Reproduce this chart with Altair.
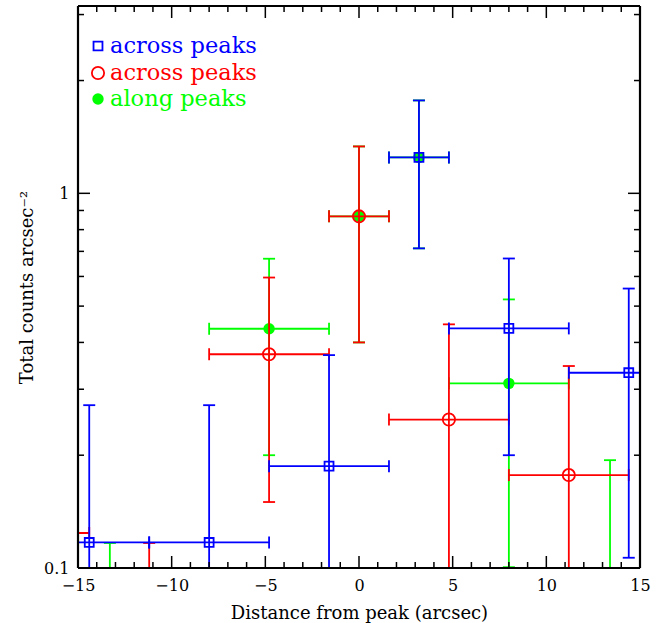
import altair as alt
import pandas as pd

# ---------------- data ----------------
blue_label = "across peaks"
blue_x = [-14.4, -8.0, -1.6, 3.2, 8.0, 14.4]
blue_y = [0.117, 0.117, 0.187, 1.247, 0.436, 0.332]
blue_xerr = [3.2, 3.2, 3.2, 1.6, 3.2, 3.2]
blue_ylo = [0.05, 0.05, 0.05, 0.713, 0.200, 0.1065]
blue_yhi = [0.272, 0.272, 0.370, 1.77, 0.670, 0.557]

red_label = "across peaks"
red_x = [-16.0, -11.2, -4.8, 0.0, 4.8, 11.2]
red_y = [0.124, 0.08, 0.372, 0.868, 0.249, 0.177]
red_xerr = [1.6, 3.2, 3.2, 1.6, 3.2, 3.2]
red_ylo = [0.05, 0.04, 0.150, 0.400, 0.05, 0.05]
red_yhi = [0.2, 0.1166, 0.596, 1.334, 0.447, 0.346]

green_label = "along peaks"
green_x = [-13.3, -4.8, 0.0, 3.2, 8.0, 13.4]
green_y = [0.07, 0.435, 0.868, 1.247, 0.311, 0.08]
green_xerr = [1.6, 3.2, 1.6, 1.6, 3.2, 1.6]
green_ylo = [0.03, 0.200, 0.400, 0.713, 0.1005, 0.04]
green_yhi = [0.1166, 0.669, 1.334, 1.77, 0.521, 0.194]

x_major = [-15, -10, -5, 0, 5, 10, 15]
x_minor = [v for v in range(-15, 16) if v % 5 != 0]
y_major = [0.1, 1]
y_minor = [0.2, 0.3, 0.4, 0.5, 0.6, 0.7, 0.8, 0.9, 2, 3]

x_title = "Distance from peak (arcsec)"
y_title = "Total counts arcsec\u207b\u00b2"

# ---------------- layout ----------------
W, H = 562, 562
FONT = "DejaVu Serif"
xs = alt.Scale(domain=[-15, 15], nice=False, zero=False)
ys = alt.Scale(type="log", domain=[0.1, 3.162], nice=False, zero=False)

axis_common = dict(ticks=False, domain=False, grid=False, labelFont=FONT,
                   labelFontSize=16, labelColor="black", titleFont=FONT,
                   titleFontSize=18, titleFontWeight="normal", titleColor="black",
                   labelFlush=False, labelOverlap=False)
x_axis = alt.Axis(values=x_major, title=x_title, labelPadding=9,
                  titlePadding=11, **axis_common)
y_axis = alt.Axis(values=y_major, title=y_title, format="~g", labelPadding=9,
                  titlePadding=7, **axis_common)


def frame(x, y, xerr, ylo, yhi):
    df = pd.DataFrame({"x": x, "y": y, "xerr": xerr, "ylo": ylo, "yhi": yhi})
    df["xlo"] = df["x"] - df["xerr"]
    df["xhi"] = df["x"] + df["xerr"]
    return df


def X(f):
    return alt.X(f, type="quantitative", scale=xs, axis=x_axis)


def Y(f):
    return alt.Y(f, type="quantitative", scale=ys, axis=y_axis)


def series(df, color, shape, filled, size):
    base = alt.Chart(df)
    sw = 1.8
    vbar = base.mark_rule(color=color, strokeWidth=sw, clip=True).encode(
        x=X("x"), y=Y("ylo"), y2="yhi")
    hbar = base.mark_rule(color=color, strokeWidth=sw, clip=True).encode(
        y=Y("y"), x=X("xlo"), x2="xhi")
    cap_top = base.mark_rule(color=color, strokeWidth=sw, clip=True,
                             xOffset=-6, x2Offset=6).encode(
        x=X("x"), x2="x", y=Y("yhi"))
    cap_bot = base.mark_rule(color=color, strokeWidth=sw, clip=True,
                             xOffset=-6, x2Offset=6).encode(
        x=X("x"), x2="x", y=Y("ylo"))
    cap_l = base.mark_rule(color=color, strokeWidth=sw, clip=True,
                           yOffset=-6, y2Offset=6).encode(
        y=Y("y"), y2="y", x=X("xlo"))
    cap_r = base.mark_rule(color=color, strokeWidth=sw, clip=True,
                           yOffset=-6, y2Offset=6).encode(
        y=Y("y"), y2="y", x=X("xhi"))
    if filled:
        pts = base.mark_point(shape=shape, filled=True, color=color, size=size,
                              opacity=1, clip=True).encode(x=X("x"), y=Y("y"))
    else:
        pts = base.mark_point(shape=shape, filled=False, color=color, size=size,
                              strokeWidth=1.8, opacity=1, clip=True).encode(
            x=X("x"), y=Y("y"))
    return [vbar, hbar, cap_top, cap_bot, cap_l, cap_r, pts]


green_df = frame(green_x, green_y, green_xerr, green_ylo, green_yhi)
red_df = frame(red_x, red_y, red_xerr, red_ylo, red_yhi)
blue_df = frame(blue_x, blue_y, blue_xerr, blue_ylo, blue_yhi)

BLUE, RED, GREEN = "#0000ff", "#ff0000", "#00ff00"

layers = []
layers += series(green_df, GREEN, "circle", True, 130)
layers += series(red_df, RED, "circle", False, 150)
layers += series(blue_df, BLUE, "square", False, 80)


# ---------------- inward ticks on all four sides ----------------
def xtick_layers(vals, L):
    df = pd.DataFrame({"v": vals})
    b = alt.Chart(df)
    top = b.mark_rule(color="black", strokeWidth=1.5).encode(
        x=X("v"), y=alt.value(0), y2=alt.value(L))
    bot = b.mark_rule(color="black", strokeWidth=1.5).encode(
        x=X("v"), y=alt.value(H), y2=alt.value(H - L))
    return [top, bot]


def ytick_layers(vals, L):
    df = pd.DataFrame({"v": vals})
    b = alt.Chart(df)
    left = b.mark_rule(color="black", strokeWidth=1.5).encode(
        y=Y("v"), x=alt.value(0), x2=alt.value(L))
    right = b.mark_rule(color="black", strokeWidth=1.5).encode(
        y=Y("v"), x=alt.value(W), x2=alt.value(W - L))
    return [left, right]


layers += xtick_layers(x_major, 12) + xtick_layers(x_minor, 6)
layers += ytick_layers(y_major, 12) + ytick_layers(y_minor, 6)

# ---------------- frame box ----------------
one = pd.DataFrame({"k": [0]})
fb = alt.Chart(one)
layers += [
    fb.mark_rule(color="black", strokeWidth=2.2).encode(
        x=alt.value(0), x2=alt.value(W), y=alt.value(0)),
    fb.mark_rule(color="black", strokeWidth=2.2).encode(
        x=alt.value(0), x2=alt.value(W), y=alt.value(H)),
    fb.mark_rule(color="black", strokeWidth=2.2).encode(
        y=alt.value(0), y2=alt.value(H), x=alt.value(0)),
    fb.mark_rule(color="black", strokeWidth=2.2).encode(
        y=alt.value(0), y2=alt.value(H), x=alt.value(W)),
]

# ---------------- legend (top-left inside the frame) ----------------
legend_rows = [
    (blue_label, BLUE, "square", False, 80, 40),
    (red_label, RED, "circle", False, 150, 67),
    (green_label, GREEN, "circle", True, 130, 93),
]
for label, color, shape, filled, size, ypix in legend_rows:
    d = pd.DataFrame({"t": [label]})
    if filled:
        m = alt.Chart(d).mark_point(shape=shape, filled=True, color=color,
                                    size=size, opacity=1)
    else:
        m = alt.Chart(d).mark_point(shape=shape, filled=False, color=color,
                                    size=size, strokeWidth=1.8, opacity=1)
    layers.append(m.encode(x=alt.value(20), y=alt.value(ypix)))
    layers.append(alt.Chart(d).mark_text(align="left", baseline="middle",
                                         font=FONT, fontSize=22.5, color=color)
                  .encode(text="t:N", x=alt.value(32), y=alt.value(ypix)))

chart = alt.layer(*layers).properties(
    width=W, height=H,
    autosize=alt.AutoSizeParams(type="none"),
    padding={"left": 78, "top": 6, "right": 21, "bottom": 55},
).configure_view(stroke=None).configure(background="white")

chart.save("out.html", embed_options={"renderer": "svg", "actions": False})
